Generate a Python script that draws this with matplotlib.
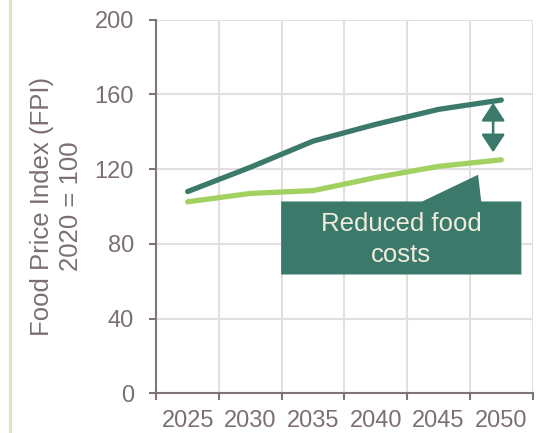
import matplotlib
matplotlib.use("Agg")
import matplotlib.pyplot as plt
from matplotlib.patches import Polygon, FancyArrowPatch
from matplotlib.lines import Line2D

plt.rcParams['font.family'] = ['Liberation Sans', 'DejaVu Sans']

# Data
years = ["2025", "2030", "2035", "2040", "2045", "2050"]
baseline_fpi = [108, 121, 135, 144, 152, 157]
scenario_fpi = [102.5, 107, 108.5, 115.5, 121.5, 125]
y_ticks = [0, 40, 80, 120, 160, 200]

DARK = "#3b7a6b"
LIGHT = "#a2d161"
GRID = "#e3dfe0"
AXIS = "#7f7477"
TEXT = "#7b6f73"

fig = plt.figure(figsize=(5.48, 4.33), dpi=100)
ax = fig.add_axes([0.2852, 0.0917, 0.972 - 0.2852, 0.9545 - 0.0917])

x = list(range(len(years)))
n = len(years)

ax.set_xlim(-0.5, n - 0.5)
ax.set_ylim(0, 200)

# grid: horizontal at value ticks, vertical at category boundaries
for yv in y_ticks[1:]:
    ax.axhline(yv, color=GRID, lw=1.5, zorder=0)
for b in range(1, n + 1):
    ax.axvline(b - 0.5, color=GRID, lw=1.5, zorder=0)

ax.plot(x, baseline_fpi, color=DARK, lw=3.8, solid_capstyle='round', zorder=3)
ax.plot(x, scenario_fpi, color=LIGHT, lw=3.8, solid_capstyle='round', zorder=3)

# spines and ticks
for s in ['top', 'right']:
    ax.spines[s].set_visible(False)
for s in ['left', 'bottom']:
    ax.spines[s].set_color(AXIS)
    ax.spines[s].set_linewidth(1.5)

ax.set_yticks(y_ticks)
ax.set_yticklabels([str(v) for v in y_ticks])
ax.set_xticks([i - 0.5 for i in range(n + 1)])
ax.set_xticklabels([])
ax.set_xticks(x, minor=True)
ax.set_xticklabels(years, minor=True)
ax.tick_params(axis='y', which='major', length=5, width=1.5, color=AXIS,
               labelsize=17, labelcolor=TEXT, pad=11)
ax.tick_params(axis='x', which='major', length=5, width=1.5, color=AXIS)
ax.tick_params(axis='x', which='minor', length=0, labelsize=17,
               labelcolor=TEXT, pad=12)

ax.set_ylabel("Food Price Index (FPI)\n2020 = 100", fontsize=18.5,
              color=TEXT, linespacing=1.3, labelpad=8)

# double-headed arrow between the two series near 2050
arrow = FancyArrowPatch((4.87, 129), (4.87, 155.5),
                        arrowstyle='<|-|>,head_length=0.55,head_width=0.36',
                        mutation_scale=20, color=DARK, lw=1.8, zorder=4,
                        shrinkA=0, shrinkB=0)
ax.add_patch(arrow)

# callout box with pointer
callout = Polygon([(1.49, 63.6), (5.32, 63.6), (5.32, 102.7), (4.68, 102.7),
                   (4.63, 117), (3.74, 102.7), (1.49, 102.7)],
                  closed=True, facecolor=DARK, edgecolor='none', zorder=5,
                  clip_on=False)
ax.add_patch(callout)
ax.text(3.405, 82.4, "Reduced food\ncosts", ha='center', va='center',
        fontsize=18.5, color="#efecdc", linespacing=1.4, zorder=6)

# decorative rule at left edge
fig.add_artist(Line2D([10 / 548, 10 / 548], [0, 1], color="#d7eabb",
                      lw=2.2, transform=fig.transFigure))

fig.savefig("out.png", dpi=100)
